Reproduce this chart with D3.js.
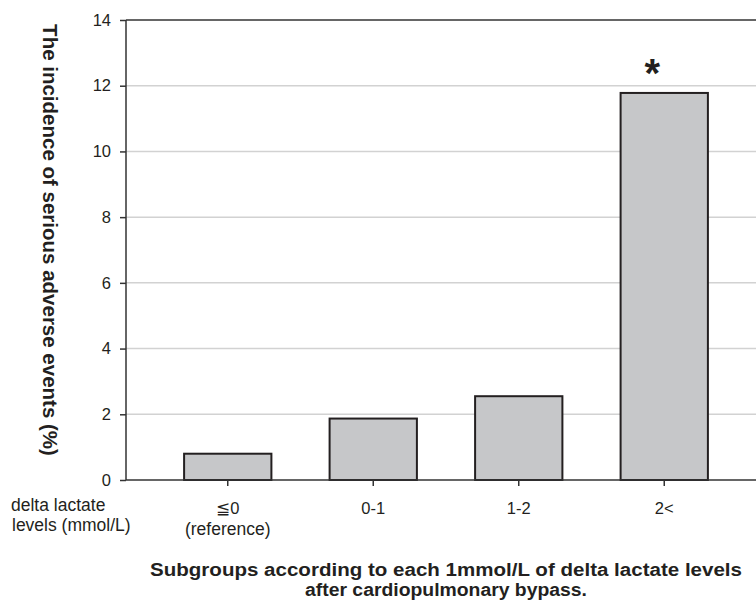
<!DOCTYPE html>
<html>
<head>
<meta charset="utf-8">
<script src="https://cdn.jsdelivr.net/npm/d3@7"></script>
<style>
  body { margin: 0; background: #fff; }
  text { font-family: "Liberation Sans", Arial, sans-serif; fill: #231f20; }
</style>
</head>
<body>
<div id="chart"></div>
<script>
var W = 756, H = 603;

// data
var groups = ["≦0", "0-1", "1-2", "2<"];
var subLabels = ["(reference)", "", "", ""];
var incidence = [0.8, 1.87, 2.55, 11.78];
var marks = ["", "", "", "*"];
var yTicks = [0, 2, 4, 6, 8, 10, 12, 14];

var svg = d3.select("#chart")
    .append("svg")
    .attr("width", W)
    .attr("height", H);

var x = d3.scaleBand()
    .domain(groups)
    .range([155, 737])
    .paddingInner(0.4)
    .paddingOuter(0.2);

var y = d3.scaleLinear()
    .domain([0, 14])
    .range([480, 20]);

var left = 126, right = W;

// gridlines
svg.append("g")
    .selectAll("line")
    .data(yTicks.filter(function(d) { return d > 0 && d < 14; }))
    .enter().append("line")
    .attr("x1", left)
    .attr("x2", right)
    .attr("y1", function(d) { return y(d); })
    .attr("y2", function(d) { return y(d); })
    .style("stroke", "#d2d2d2")
    .style("stroke-width", 1.5);

// top border
svg.append("line")
    .attr("x1", left).attr("x2", right)
    .attr("y1", y(14)).attr("y2", y(14))
    .style("stroke", "#333").style("stroke-width", 1.5);

// bars
svg.append("g")
    .selectAll("rect")
    .data(incidence)
    .enter().append("rect")
    .attr("x", function(d, i) { return x(groups[i]); })
    .attr("y", function(d) { return y(d); })
    .attr("width", x.bandwidth())
    .attr("height", function(d) { return y(0) - y(d); })
    .style("fill", "#c6c7c9")
    .style("stroke", "#231f20")
    .style("stroke-width", 2);

// significance mark
svg.append("g")
    .selectAll("text")
    .data(incidence)
    .enter().append("text")
    .attr("x", function(d, i) { return x(groups[i]) + x.bandwidth() / 2 - 12; })
    .attr("y", function(d) { return y(d) - 6; })
    .attr("text-anchor", "middle")
    .style("font-size", "40px")
    .style("font-weight", "bold")
    .text(function(d, i) { return marks[i]; });

// y axis
var yAxis = d3.axisLeft(y)
    .tickValues(yTicks)
    .tickSize(6)
    .tickPadding(9);

var gy = svg.append("g")
    .attr("transform", "translate(" + left + ",0)")
    .call(yAxis);
gy.select(".domain").remove();
gy.selectAll(".tick line").style("stroke", "#333").style("stroke-width", 1.5);
gy.selectAll(".tick text").style("font-size", "16.5px").style("font-family", "Liberation Sans, Arial, sans-serif").style("fill", "#231f20");
svg.append("line")
    .attr("x1", left).attr("x2", left)
    .attr("y1", y(14)).attr("y2", y(0))
    .style("stroke", "#333").style("stroke-width", 1.5);

// x axis
var xAxis = d3.axisBottom(x)
    .tickSize(6)
    .tickPadding(16);

var gx = svg.append("g")
    .attr("transform", "translate(0," + y(0) + ")")
    .call(xAxis);
gx.select(".domain").remove();
gx.selectAll(".tick line").style("stroke", "#333").style("stroke-width", 1.5);
gx.selectAll(".tick text")
    .style("font-size", "16.5px")
    .style("font-family", "Liberation Sans, Arial, sans-serif")
    .style("fill", "#231f20");
svg.append("line")
    .attr("x1", left).attr("x2", right)
    .attr("y1", y(0)).attr("y2", y(0))
    .style("stroke", "#333").style("stroke-width", 1.5);

svg.append("g")
    .selectAll("text")
    .data(subLabels)
    .enter().append("text")
    .attr("x", function(d, i) { return x(groups[i]) + x.bandwidth() / 2; })
    .attr("y", 535)
    .attr("text-anchor", "middle")
    .style("font-size", "17.5px")
    .text(function(d) { return d; });

// left legend text
svg.append("text")
    .attr("x", 11).attr("y", 511)
    .style("font-size", "17.5px")
    .text("delta lactate");
svg.append("text")
    .attr("x", 12).attr("y", 531)
    .style("font-size", "17.5px")
    .text("levels (mmol/L)");

// axis titles
svg.append("text")
    .attr("transform", "translate(43," + 240 + ") rotate(90)")
    .attr("text-anchor", "middle")
    .style("font-size", "20.5px")
    .style("font-weight", "bold")
    .text("The incidence of serious adverse events (%)");

svg.append("text")
    .attr("x", 446).attr("y", 576)
    .attr("text-anchor", "middle")
    .attr("textLength", 592)
    .attr("lengthAdjust", "spacingAndGlyphs")
    .style("font-size", "18px")
    .style("font-weight", "bold")
    .text("Subgroups according to each 1mmol/L of delta lactate levels");
svg.append("text")
    .attr("x", 446).attr("y", 596)
    .attr("text-anchor", "middle")
    .attr("textLength", 282)
    .attr("lengthAdjust", "spacingAndGlyphs")
    .style("font-size", "18px")
    .style("font-weight", "bold")
    .text("after cardiopulmonary bypass.");
</script>
</body>
</html>
